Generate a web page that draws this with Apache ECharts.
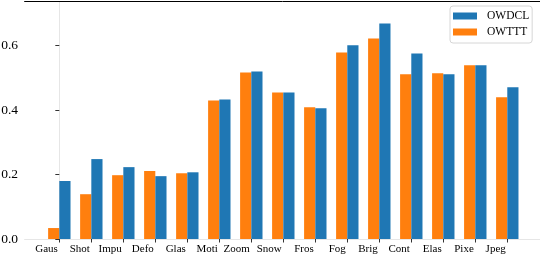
<!DOCTYPE html>
<html>
<head>
<meta charset="utf-8">
<script src="https://cdn.jsdelivr.net/npm/echarts@6/dist/echarts.min.js"></script>
<style>html,body{margin:0;padding:0;background:#fff}#c{width:540px;height:256px}</style>
</head>
<body>
<div id="c"></div>
<script>
var categories = ['Gaus','Shot','Impu','Defo','Glas','Moti','Zoom','Snow','Fros','Fog','Brig','Cont','Elas','Pixe','Jpeg'];
var owttt = [0.034,0.139,0.198,0.211,0.204,0.430,0.517,0.455,0.409,0.579,0.622,0.511,0.514,0.539,0.440];
var owdcl = [0.180,0.248,0.223,0.195,0.207,0.433,0.520,0.455,0.406,0.601,0.669,0.576,0.511,0.539,0.471];
var yTicks = [0, 0.2, 0.4, 0.6];
var xTicks = categories.map(function(_, i){ return i; });

var font = 'Liberation Serif';
var chart = echarts.init(document.getElementById('c'), null, {renderer:'canvas'});
chart.setOption({
  animation: false,
  backgroundColor: '#fff',
  grid: {left: 24.6, right: -2, top: 1.5, bottom: 17, containLabel: false, outerBoundsMode: 'none'},
  legend: {
    orient: 'vertical', left: 450, top: 6,
    data: ['OWDCL','OWTTT'],
    itemWidth: 24, itemHeight: 7, itemGap: 4,
    padding: [4, 3, 5, 3],
    borderColor: '#d6d6d6', borderWidth: 1, borderRadius: 3,
    backgroundColor: 'rgba(255,255,255,0.8)',
    icon: 'rect',
    textStyle: {fontFamily: font, fontSize: 11.5, color: '#000', lineHeight: 12, padding: [0,0,0,5]}
  },
  xAxis: [{
    type: 'value', min: -1.085, max: 15.085,
    splitLine: {show: false},
    axisLine: {show: true, onZero: false, lineStyle: {color: '#e6e6e6', width: 1}},
    axisTick: {show: true, customValues: xTicks, length: 3.5, lineStyle: {color: '#333'}},
    axisLabel: {
      customValues: xTicks, align: 'right', margin: 5, padding: [0, 1.5, 0, 0],
      fontFamily: font, fontSize: 11, color: '#000',
      formatter: function(v){ return categories[Math.round(v)] || ''; }
    }
  }, {
    type: 'value', position: 'top', min: -1.085, max: 15.085,
    splitLine: {show: false},
    axisLine: {show: true, onZero: false, lineStyle: {color: '#000', width: 1}},
    axisTick: {show: false}, axisLabel: {show: false}
  }],
  yAxis: {
    type: 'value', min: 0, max: 0.737,
    splitLine: {show: false},
    axisLine: {show: true, lineStyle: {color: '#e6e6e6', width: 1}},
    axisTick: {show: true, customValues: yTicks, length: 4, lineStyle: {color: '#333'}},
    axisLabel: {
      customValues: yTicks, margin: 6.5,
      fontFamily: font, fontSize: 13.5, color: '#000',
      formatter: function(v){ return v.toFixed(1); }
    }
  },
  series: [{
    name: 'OWTTT', type: 'bar', xAxisIndex: 0,
    data: owttt.map(function(v, i){ return [i, v]; }),
    barWidth: 11.2, barGap: '0%',
    itemStyle: {color: '#ff7f0e'}
  }, {
    name: 'OWDCL', type: 'bar', xAxisIndex: 0,
    data: owdcl.map(function(v, i){ return [i, v]; }),
    barWidth: 11.2, barGap: '0%',
    itemStyle: {color: '#1f77b4'}
  }]
});
</script>
</body>
</html>
